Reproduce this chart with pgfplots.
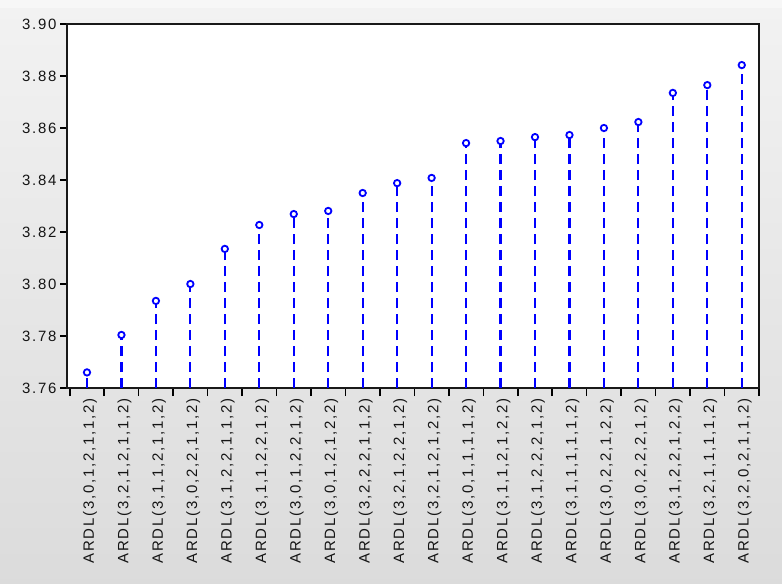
\documentclass[border=0pt]{standalone}
\usepackage{pgfplots}
\pgfplotsset{compat=1.18}
\usepackage{fontspec}
\setmainfont{Liberation Sans}
\newfontfamily\lab{Liberation Sans}[LetterSpace=12]
\definecolor{txt}{HTML}{141414}
\begin{document}
\begin{tikzpicture}
\useasboundingbox (0,0) rectangle (782bp,-584bp);
\shade[top color=white!95!black, bottom color=white!86!black] (0,0) rectangle (782bp,-584bp);
\fill[white!97!black] (0,0) rectangle (782bp,-8bp);
\begin{axis}[
  at={(67bp,-388bp)}, anchor=south west,
  width=692bp, height=364bp, scale only axis,
  axis background/.style={fill=white},
  axis line style={line width=2bp, draw=black!90},
  xmin=-0.58, xmax=19.5,
  ymin=3.76, ymax=3.90,
  ytick={3.76,3.78,...,3.901},
  yticklabel style={/pgf/number format/fixed, /pgf/number format/fixed zerofill, /pgf/number format/precision=2, /pgf/number format/assume math mode=true},
  yticklabel style={font=\lab\fontsize{15}{17}\selectfont, text=txt},
  xtick={0,...,19},
  xticklabels={{ARDL(3,0,1,2,1,1,2)},{ARDL(3,2,1,2,1,1,2)},{ARDL(3,1,1,2,1,1,2)},{ARDL(3,0,2,2,1,1,2)},{ARDL(3,1,2,2,1,1,2)},{ARDL(3,1,1,2,2,1,2)},{ARDL(3,0,1,2,2,1,2)},{ARDL(3,0,1,2,1,2,2)},{ARDL(3,2,2,2,1,1,2)},{ARDL(3,2,1,2,2,1,2)},{ARDL(3,2,1,2,1,2,2)},{ARDL(3,0,1,1,1,1,2)},{ARDL(3,1,1,2,1,2,2)},{ARDL(3,1,2,2,2,1,2)},{ARDL(3,1,1,1,1,1,2)},{ARDL(3,0,2,2,1,2,2)},{ARDL(3,0,2,2,2,1,2)},{ARDL(3,1,2,2,1,2,2)},{ARDL(3,2,1,1,1,1,2)},{ARDL(3,2,0,2,1,1,2)}},
  xticklabel style={rotate=90, anchor=east, font=\lab\fontsize{15}{17}\selectfont, text=txt, yshift=-3bp},
  major x tick style={draw=none},
  minor xtick={-0.5,0.5,...,19.6},
  minor x tick style={draw=black, line width=1.6bp},
  minor tick length=8bp,
  major tick length=7bp,
  y tick style={draw=black, line width=1.6bp},
  tick align=outside,
  xtick pos=bottom, ytick pos=left,
]
\addplot[ycomb, draw=blue, line width=2.2bp, dash pattern=on 10bp off 6bp,
  mark=*, mark size=3.2bp, mark options={solid, fill=white, draw=blue, line width=1.8bp}]
  coordinates {
  (0,3.7660) (1,3.7804) (2,3.7935) (3,3.8000) (4,3.8135)
  (5,3.8227) (6,3.8269) (7,3.8281) (8,3.8350) (9,3.8388)
  (10,3.8408) (11,3.8542) (12,3.8550) (13,3.8565) (14,3.8573)
  (15,3.8600) (16,3.8623) (17,3.8735) (18,3.8765) (19,3.8842)
  };
\end{axis}
\end{tikzpicture}
\end{document}
